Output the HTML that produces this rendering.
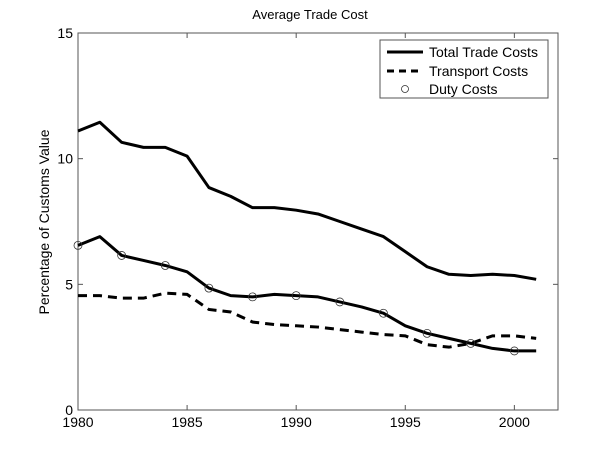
<!DOCTYPE html>
<html><head><meta charset="utf-8"><style>
body{margin:0;background:#fff;}
svg text{font-family:"Liberation Sans",Arial,sans-serif;fill:#000;}
</style></head><body>
<svg width="600" height="457" xmlns="http://www.w3.org/2000/svg">
<rect x="0" y="0" width="600" height="457" fill="#fff"/>
<text x="310" y="19" font-size="13" text-anchor="middle">Average Trade Cost</text>
<text transform="translate(49,222) rotate(-90)" font-size="14" text-anchor="middle">Percentage of Customs Value</text>
<g id="axes"></g>
<g id="series"></g>
<g>
<rect x="380" y="40" width="168" height="58" fill="#fff" stroke="#555" stroke-width="1"/>
<line x1="387" y1="52" x2="423" y2="52" stroke="#000" stroke-width="3"/>
<text x="429" y="57" font-size="14">Total Trade Costs</text>
<line x1="387" y1="71" x2="423" y2="71" stroke="#000" stroke-width="3" stroke-dasharray="7,5"/>
<text x="429" y="76" font-size="14">Transport Costs</text>
<circle cx="405" cy="89" r="3.5" fill="none" stroke="#333" stroke-width="0.8"/>
<text x="429" y="94" font-size="14">Duty Costs</text>
</g>
</svg>
<script>
const years=[1980,1981,1982,1983,1984,1985,1986,1987,1988,1989,1990,1991,1992,1993,1994,1995,1996,1997,1998,1999,2000,2001];
const totalCosts=[11.1,11.45,10.65,10.45,10.45,10.1,8.85,8.5,8.05,8.05,7.95,7.8,7.5,7.2,6.9,6.3,5.7,5.4,5.35,5.4,5.35,5.2];
const dutyCosts=[6.55,6.9,6.15,5.95,5.75,5.5,4.85,4.55,4.5,4.6,4.55,4.5,4.3,4.1,3.85,3.35,3.05,2.85,2.65,2.45,2.35,2.35];
const transportCosts=[4.55,4.55,4.45,4.45,4.65,4.6,4.0,3.9,3.5,3.4,3.35,3.3,3.2,3.1,3.0,2.95,2.6,2.5,2.65,2.95,2.95,2.85];
const xTicks=[1980,1985,1990,1995,2000];
const yTicks=[0,5,10,15];
const NS='http://www.w3.org/2000/svg';
const L=78,R=558,T=33,B=410,X0=1980,X1=2002,Y0=0,Y1=15;
function xs(v){return L+(v-X0)/(X1-X0)*(R-L);}
function ys(v){return B-(v-Y0)/(Y1-Y0)*(B-T);}
function mk(tag,attrs,parent){const e=document.createElementNS(NS,tag);for(const k in attrs)e.setAttribute(k,attrs[k]);parent.appendChild(e);return e;}
const axes=document.getElementById('axes');
const frame=mk('rect',{x:L,y:T,width:R-L,height:B-T,fill:'none',stroke:'#555','stroke-width':1},axes);


xTicks.forEach(t=>{const x=xs(t);
mk('line',{x1:x,y1:B,x2:x,y2:B-5,stroke:'#555'},axes);
mk('line',{x1:x,y1:T,x2:x,y2:T+5,stroke:'#555'},axes);
const tx=mk('text',{x:x,y:B+17,'font-size':14,'text-anchor':'middle'},axes);tx.textContent=t;

});
yTicks.forEach(t=>{const y=ys(t);
mk('line',{x1:L,y1:y,x2:L+5,y2:y,stroke:'#555'},axes);
mk('line',{x1:R,y1:y,x2:R-5,y2:y,stroke:'#555'},axes);
const tx=mk('text',{x:L-5,y:y+5,'font-size':14,'text-anchor':'end'},axes);tx.textContent=t;

});
const S=document.getElementById('series');
function pts(a){return a.map((v,i)=>xs(years[i])+','+ys(v)).join(' ');}
const p1=mk('polyline',{points:pts(totalCosts),fill:'none',stroke:'#000','stroke-width':3,'stroke-linejoin':'round'},S);


const p2=mk('polyline',{points:pts(transportCosts),fill:'none',stroke:'#000','stroke-width':3,'stroke-dasharray':'9,6'},S);


const p3=mk('polyline',{points:pts(dutyCosts),fill:'none',stroke:'#000','stroke-width':3,'stroke-linejoin':'round'},S);


dutyCosts.forEach((v,i)=>{if(years[i]%2)return;
const c=mk('circle',{cx:xs(years[i]),cy:ys(v),r:4,fill:'none',stroke:'#333','stroke-width':0.8},S);

});
</script>
</body></html>
